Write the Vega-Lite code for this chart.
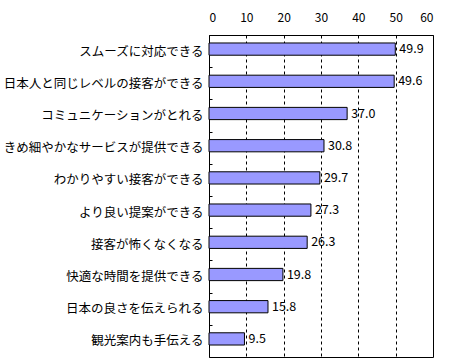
{
  "$schema": "https://vega.github.io/schema/vega-lite/v6.json",
  "width": 224,
  "height": 322,
  "autosize": {"type": "none"},
  "padding": {"left": 209, "top": 35, "right": 17, "bottom": 5},
  "background": "white",
  "config": {
    "font": "Noto Sans CJK JP",
    "view": {"stroke": "black", "strokeWidth": 1},
    "axis": {"labelFont": "Noto Sans CJK JP", "labelColor": "black", "labelFontSize": 12.5}
  },
  "data": {
    "values": [
      {"item": "スムーズに対応できる", "value": 49.9},
      {"item": "日本人と同じレベルの接客ができる", "value": 49.6},
      {"item": "コミュニケーションがとれる", "value": 37.0},
      {"item": "きめ細やかなサービスが提供できる", "value": 30.8},
      {"item": "わかりやすい接客ができる", "value": 29.7},
      {"item": "より良い提案ができる", "value": 27.3},
      {"item": "接客が怖くなくなる", "value": 26.3},
      {"item": "快適な時間を提供できる", "value": 19.8},
      {"item": "日本の良さを伝えられる", "value": 15.8},
      {"item": "観光案内も手伝える", "value": 9.5}
    ]
  },
  "encoding": {
    "y": {
      "field": "item",
      "type": "nominal",
      "sort": null,
      "title": null,
      "scale": {"padding": 0},
      "axis": {
        "domain": false,
        "tickBand": "extent",
        "tickSize": -3,
        "tickColor": "black",
        "tickWidth": 1,
        "labelPadding": 9,
        "labelLimit": 220
      }
    },
    "x": {
      "field": "value",
      "type": "quantitative",
      "title": null,
      "scale": {"domain": [0, 60], "nice": false},
      "axis": {
        "orient": "top",
        "values": [0, 10, 20, 30, 40, 50, 60],
        "ticks": false,
        "domain": false,
        "labelPadding": 11,
        "grid": true,
        "gridColor": "black",
        "gridDash": [3, 3],
        "gridOpacity": 1,
        "labelFontSize": 12
      }
    }
  },
  "layer": [
    {
      "mark": {"type": "bar", "fill": "#9999FF", "stroke": "black", "strokeWidth": 1, "height": {"band": 0.38}},
      "encoding": {"yOffset": {"value": -2}}
    },
    {
      "mark": {"type": "text", "align": "left", "baseline": "middle", "dx": 4, "dy": -2, "fontSize": 12.5, "color": "black"},
      "encoding": {
        "text": {"field": "value", "type": "quantitative", "format": ".1f"}
      }
    }
  ]
}
